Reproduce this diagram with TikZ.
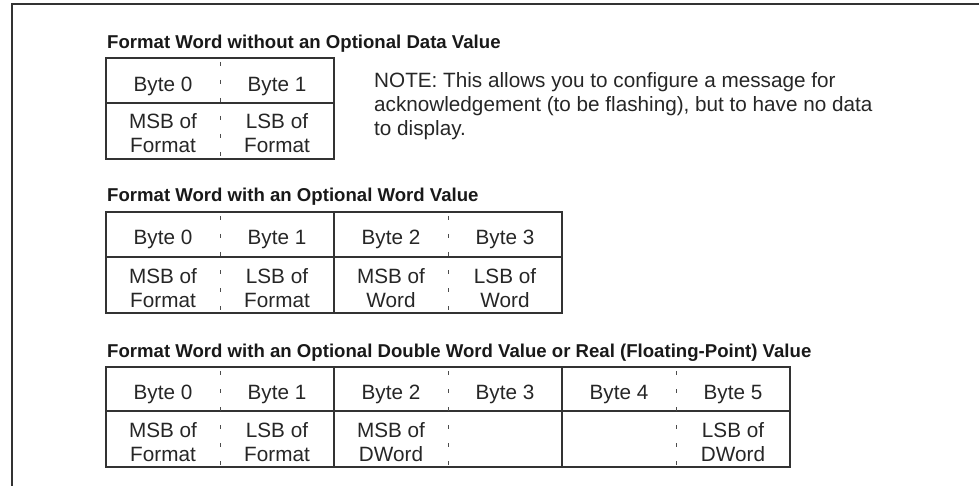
\documentclass[tikz,border=0pt]{standalone}
\usepackage{fontspec}
\setmainfont{Liberation Sans}
\begin{document}
\begin{tikzpicture}[x=1pt,y=-1pt,
  frameline/.style={line width=1.6pt, draw=black!80},
  tbl/.style={line width=1.3pt, draw=black!80},
  dsh/.style={line width=1pt, draw=black!70, dash pattern=on 4pt off 14pt, dash phase=-4pt},
  ttl/.style={anchor=base west, inner sep=0pt, font=\fontsize{18.6}{20}\selectfont\bfseries, text=black!90},
  cell/.style={anchor=base, inner sep=0pt, align=center, font=\fontsize{20.7}{24}\selectfont, text=black!85},
  notetext/.style={anchor=base west, inner sep=0pt, align=left, font=\fontsize{20.7}{24}\selectfont, text=black!85}]
\useasboundingbox (0,0) rectangle (979,486);
% outer frame
\draw[frameline] (979,4) -- (12,4) -- (12,486);

% ---------- Table 1 ----------
\begin{scope}[shift={(0,58)}]
  \node[ttl] (t1title) at (107,-9) {Format Word without an Optional Data Value};
  \draw[tbl] (106,0) rectangle (334,101);
  \draw[tbl] (106,45) -- (334,45);
  \draw[dsh] (220,0) -- (220,101);
  \node[cell] (t1b0) at (163,34) {Byte 0};
  \node[cell] (t1b1) at (277,34) {Byte 1};
  \node[cell] (t1v0) at (163,95) {MSB of\\Format};
  \node[cell] (t1v1) at (277,95) {LSB of\\Format};
\end{scope}
\node[notetext] (note) at (374,136) {NOTE: This allows you to configure a message for\\acknowledgement (to be flashing), but to have no data\\to display.};

% ---------- Table 2 ----------
\begin{scope}[shift={(0,212)}]
  \node[ttl] (t2title) at (107,-10) {Format Word with an Optional Word Value};
  \draw[tbl] (106,0) rectangle (562,101);
  \draw[tbl] (106,45) -- (562,45);
  \draw[tbl] (334,0) -- (334,101);
  \draw[dsh] (220,0) -- (220,101);
  \draw[dsh] (448,0) -- (448,101);
  \node[cell] (t2b0) at (163,33) {Byte 0};
  \node[cell] (t2b1) at (277,33) {Byte 1};
  \node[cell] (t2b2) at (391,33) {Byte 2};
  \node[cell] (t2b3) at (505,33) {Byte 3};
  \node[cell] (t2v0) at (163,95) {MSB of\\Format};
  \node[cell] (t2v1) at (277,95) {LSB of\\Format};
  \node[cell] (t2v2) at (391,95) {MSB of\\Word};
  \node[cell] (t2v3) at (505,95) {LSB of\\Word};
\end{scope}

% ---------- Table 3 ----------
\begin{scope}[shift={(0,367)}]
  \node[ttl] (t3title) at (107,-10) {Format Word with an Optional Double Word Value or Real (Floating-Point) Value};
  \draw[tbl] (106,0) rectangle (790,100);
  \draw[tbl] (106,44) -- (790,44);
  \draw[tbl] (334,0) -- (334,100);
  \draw[tbl] (562,0) -- (562,100);
  \draw[dsh] (220,0) -- (220,100);
  \draw[dsh] (448,0) -- (448,100);
  \draw[dsh] (676,0) -- (676,100);
  \node[cell] (t3b0) at (163,32) {Byte 0};
  \node[cell] (t3b1) at (277,32) {Byte 1};
  \node[cell] (t3b2) at (391,32) {Byte 2};
  \node[cell] (t3b3) at (505,32) {Byte 3};
  \node[cell] (t3b4) at (619,32) {Byte 4};
  \node[cell] (t3b5) at (733,32) {Byte 5};
  \node[cell] (t3v0) at (163,94) {MSB of\\Format};
  \node[cell] (t3v1) at (277,94) {LSB of\\Format};
  \node[cell] (t3v2) at (391,94) {MSB of\\DWord};
  \node[cell] (t3v5) at (733,94) {LSB of\\DWord};
\end{scope}
\end{tikzpicture}
\end{document}
